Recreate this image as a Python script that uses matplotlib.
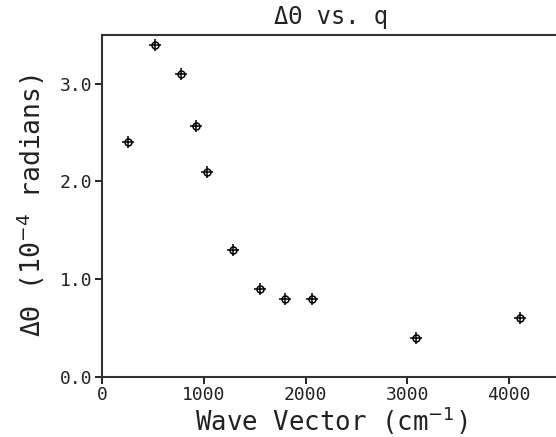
import matplotlib
matplotlib.use("Agg")
import matplotlib.pyplot as plt

wave_vector = [257, 519, 775, 920, 1027, 1291, 1547, 1800, 2060, 3086, 4110]
delta_theta = [2.40, 3.40, 3.10, 2.57, 2.10, 1.30, 0.90, 0.80, 0.80, 0.40, 0.60]
x_ticks = [0, 1000, 2000, 3000, 4000]
y_ticks = [0.0, 1.0, 2.0, 3.0]
y_tick_labels = ["0.0", "1.0", "2.0", "3.0"]

plt.rcParams['font.family'] = ['DejaVu Sans Mono', 'DejaVu Sans']
plt.rcParams['mathtext.fontset'] = 'dejavusans'

fig = plt.figure(figsize=(5.56, 4.37), dpi=100)
ax = fig.add_axes([0.1838, 0.138, 0.823, 0.782])

ax.plot(wave_vector, delta_theta, linestyle='none', marker='o', ms=5,
        mfc='none', mec='black', mew=1.1)
ax.plot(wave_vector, delta_theta, linestyle='none', marker='+', ms=8,
        mec='black', mew=1.1)

ax.set_xlim(0, 4500)
ax.set_ylim(0, 3.5)
ax.set_xticks(x_ticks)
ax.set_yticks(y_ticks)
ax.set_yticklabels(y_tick_labels)
ax.tick_params(direction='out', length=5, width=1.2, labelsize=13, pad=2,
               labelcolor='#222222')
for s in ax.spines.values():
    s.set_linewidth(1.5)
    s.set_color('#333333')

ax.set_title("ΔΘ vs. q", fontsize=17, pad=8, color='#222222')
ax.set_xlabel("Wave Vector (cm$^{-1}$)", fontsize=18.5, labelpad=0, color='#222222')
ax.set_ylabel("ΔΘ (10$^{-4}$ radians)", fontsize=19, labelpad=9, color='#222222')

fig.savefig("out.png", dpi=100)
